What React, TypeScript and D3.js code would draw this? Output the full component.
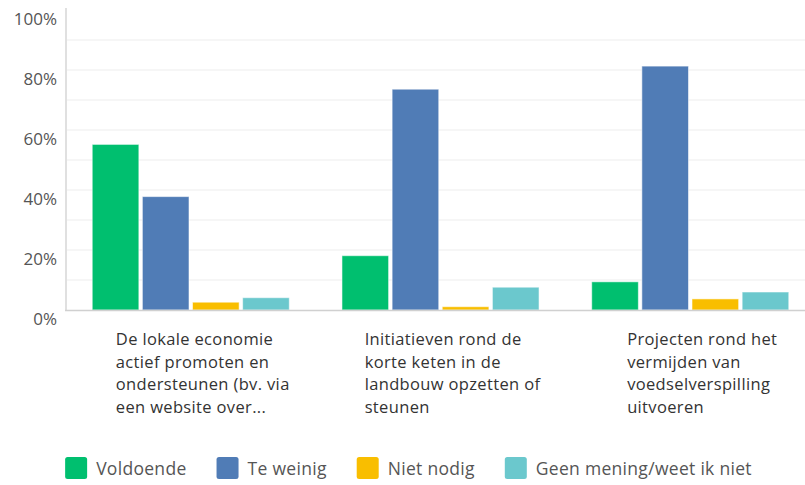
import React, { useEffect, useRef } from "react";
import * as d3 from "d3";

const categories = [
  ["De lokale economie", "actief promoten en", "ondersteunen (bv. via", "een website over..."],
  ["Initiatieven rond de", "korte keten in de", "landbouw opzetten of", "steunen"],
  ["Projecten rond het", "vermijden van", "voedselverspilling", "uitvoeren"],
];
const seriesNames = ["Voldoende", "Te weinig", "Niet nodig", "Geen mening/weet ik niet"];
const seriesColors = ["#00BF6F", "#507CB6", "#F9BE00", "#6BC8CD"];
const voldoende = [55.2, 18.1, 9.4];
const teWeinig = [37.8, 73.6, 81.3];
const nietNodig = [2.6, 1.1, 3.7];
const geenMening = [4.1, 7.6, 6.0];
const yTicks = [0, 20, 40, 60, 80, 100];
const gridTicks = [10, 20, 30, 40, 50, 60, 70, 80, 90];

const W = 805;
const H = 485;
const FONT = "'Open Sans', 'Noto Sans', sans-serif";

export default function App() {
  const ref = useRef<SVGSVGElement>(null);

  useEffect(() => {
    const svg = d3.select(ref.current);
    svg.selectAll("*").remove();
    const values = [voldoende, teWeinig, nietNodig, geenMening];
    const catIdx = categories.map((_, i) => String(i));

    const y = d3.scaleLinear().domain([0, 100]).range([310, 10]);
    const x0 = d3.scaleBand().domain(catIdx).range([66, 815]).paddingInner(0.211).paddingOuter(0.105);
    const x1 = d3.scaleBand().domain(seriesNames).range([0, x0.bandwidth()]).paddingInner(0.07);

    // grid
    svg.append("g").selectAll("line").data(gridTicks).join("line")
      .attr("x1", 67).attr("x2", W).attr("y1", (d) => y(d)).attr("y2", (d) => y(d))
      .attr("stroke", "#ededed").attr("stroke-width", 1.2);

    // y labels
    svg.append("g").selectAll("text").data(yTicks).join("text")
      .attr("x", 57).attr("y", (d) => y(d) + 9).attr("dy", "0.35em")
      .attr("text-anchor", "end").attr("font-family", FONT).attr("font-size", 17)
      .attr("fill", "#555").text((d) => `${d}%`);

    // bars
    const g = svg.append("g");
    catIdx.forEach((c, ci) => {
      seriesNames.forEach((s, si) => {
        const v = values[si][ci];
        g.append("rect")
          .attr("x", (x0(c) as number) + (x1(s) as number))
          .attr("y", y(v))
          .attr("width", x1.bandwidth())
          .attr("height", y(0) - y(v))
          .attr("fill", seriesColors[si])
          .attr("stroke", "rgba(255,255,255,0.55)")
          .attr("stroke-width", 1);
      });
    });

    // axes lines
    svg.append("line").attr("x1", 66).attr("x2", 66).attr("y1", 8).attr("y2", 311)
      .attr("stroke", "#d6d6d6").attr("stroke-width", 1.5);
    svg.append("line").attr("x1", 65).attr("x2", W).attr("y1", 310.5).attr("y2", 310.5)
      .attr("stroke", "#d0d0d0").attr("stroke-width", 1.5);

    // category labels
    catIdx.forEach((c, ci) => {
      const t = svg.append("text").attr("font-family", FONT).attr("font-size", 16.5)
        .attr("letter-spacing", 0.35).attr("fill", "#333");
      categories[ci].forEach((line, li) => {
        t.append("tspan").attr("y", 345 + li * 22.5).text(line);
      });
      let maxW = 0;
      t.selectAll<SVGTSpanElement, unknown>("tspan").each(function () {
        maxW = Math.max(maxW, this.getComputedTextLength());
      });
      const cx = (x0(c) as number) + x0.bandwidth() / 2 + 12;
      t.selectAll("tspan").attr("x", cx - maxW / 2);
    });

    // legend
    const lg = svg.append("g");
    let cur = 0;
    seriesNames.forEach((s, si) => {
      lg.append("rect").attr("x", cur).attr("y", 457).attr("width", 22).attr("height", 22)
        .attr("rx", 2.5).attr("fill", seriesColors[si]);
      const tx = lg.append("text").attr("x", cur + 31).attr("y", 474.5)
        .attr("font-family", FONT).attr("font-size", 17.5).attr("letter-spacing", 0.3)
        .attr("fill", "#555").text(s);
      const w = (tx.node() as SVGTextElement).getComputedTextLength();
      cur += 31 + w + (si < seriesNames.length - 1 ? 30 : 0);
    });
    lg.attr("transform", `translate(${408.5 - cur / 2},0)`);
  }, []);

  return (
    <svg ref={ref} width={W} height={H} style={{ position: "absolute", left: 0, top: 0, background: "#fff" }} />
  );
}
